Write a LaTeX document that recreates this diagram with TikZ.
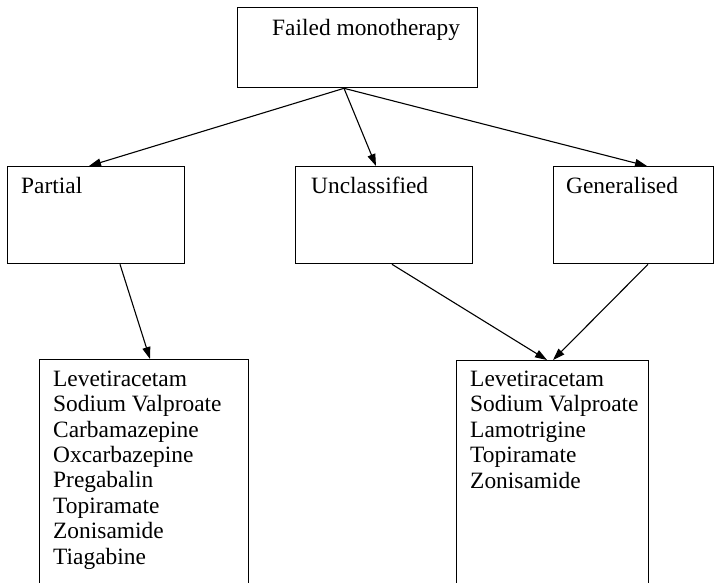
\documentclass[tikz,border=0pt]{standalone}
\usepackage{fontspec}
\setmainfont{Liberation Serif}
\usetikzlibrary{arrows.meta,calc}
\begin{document}
\begin{tikzpicture}[x=1pt,y=-1pt,
  box/.style={draw,line width=1.3pt,rectangle,inner sep=0pt,anchor=north west},
  txt/.style={inner sep=0pt,anchor=base west,align=left,font=\fontsize{23.4}{25.4}\selectfont},
  arr/.style={line width=1.1pt,-{Triangle[length=12pt,width=8pt]}}]
\useasboundingbox (0,0) rectangle (719,582);
\clip (0,0) rectangle (719,582);
\fill[white] (0,0) rectangle (719,582);
\node[box,minimum width=240pt,minimum height=80pt] (top) at (237,7) {};
\node[box,minimum width=177pt,minimum height=97pt] (par) at (7,166) {};
\node[box,minimum width=177pt,minimum height=97pt] (unc) at (295,166) {};
\node[box,minimum width=160pt,minimum height=97pt] (gen) at (553,166) {};
\node[box,minimum width=209pt,minimum height=260pt] (lb) at (39,359) {};
\node[box,minimum width=192pt,minimum height=260pt] (rb) at (456,360) {};
\node[txt] (ttop) at (272,35) {Failed monotherapy};
\node[txt] (tpar) at (21,193) {Partial};
\node[txt] (tunc) at (311,193) {Unclassified};
\node[txt] (tgen) at (566,193) {Generalised};
\node[txt] (tlb) at (53,564) {Levetiracetam\\Sodium Valproate\\Carbamazepine\\Oxcarbazepine\\Pregabalin\\Topiramate\\Zonisamide\\Tiagabine};
\node[txt] (trb) at (470,488) {Levetiracetam\\Sodium Valproate\\Lamotrigine\\Topiramate\\Zonisamide};
\coordinate (o) at ($(top.south west)+(107,0)$);
\draw[arr] (o) -- ($(par.north west)+(82,0)$);
\draw[arr] (o) -- ($(unc.north west)+(81,0)$);
\draw[arr] (o) -- ($(gen.north west)+(94,0)$);
\draw[arr] ($(par.south west)+(113,0)$) -- ($(lb.north west)+(111,0)$);
\draw[arr] ($(unc.south west)+(97,0)$) -- ($(rb.north west)+(91,0)$);
\draw[arr] ($(gen.south west)+(95,0)$) -- ($(rb.north west)+(97,0)$);
\end{tikzpicture}
\end{document}
